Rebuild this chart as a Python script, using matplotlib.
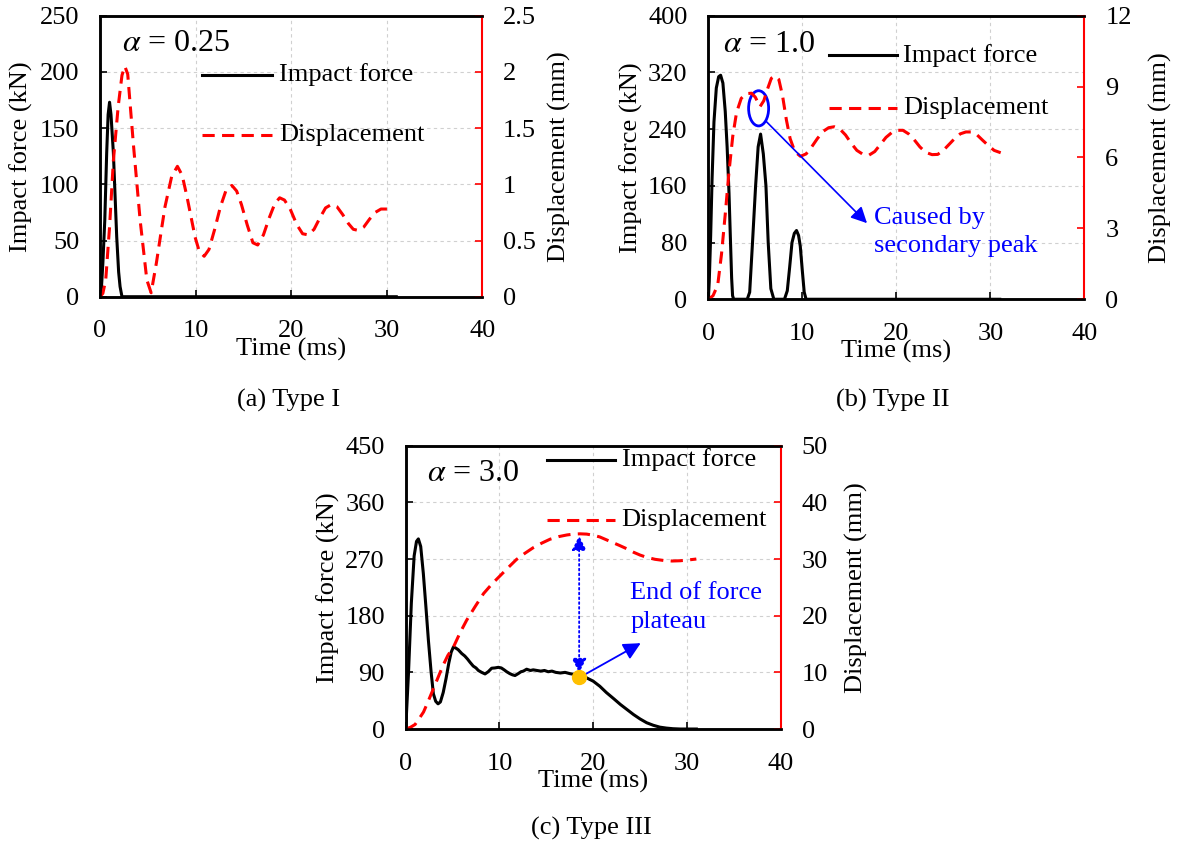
import matplotlib
matplotlib.use("Agg")
import matplotlib.pyplot as plt
from matplotlib.patches import Ellipse
from matplotlib.ticker import FuncFormatter

plt.rcParams['font.family'] = 'serif'
plt.rcParams['font.serif'] = ['Liberation Serif', 'DejaVu Serif']
plt.rcParams['mathtext.fontset'] = 'stix'

# ---- (a) Type I, alpha = 0.25
ta_force = [0, 0.15, 0.3, 0.5, 0.7, 0.85, 1.0, 1.15, 1.4, 1.6, 1.75, 1.95, 2.1, 2.3, 31.0]
fa = [0, 8, 30, 68, 128, 162, 173, 162, 128, 85, 53, 22, 9, 0, 0]
ta_disp = [0, 0.3, 0.6, 1.0, 1.4, 1.9, 2.3, 2.6, 2.9, 3.5, 4.2, 4.9, 5.35, 5.9, 6.4, 6.8, 7.5,
           8.1, 8.6, 9.1, 9.95, 10.4, 10.9, 11.4, 12.0, 12.6, 13.2, 13.8, 14.3, 14.8, 15.4,
           16.0, 16.5, 17.1, 17.7, 18.3, 18.8, 19.3, 19.9, 20.6, 21.2, 21.8, 22.4, 23.0, 23.6,
           24.2, 24.8, 25.4, 26.0, 26.5, 27.0, 27.6, 28.2, 28.8, 29.4, 29.9, 30.2]
da = [0, 0.03, 0.15, 0.62, 1.21, 1.69, 1.97, 2.05, 1.98, 1.35, 0.68, 0.15, 0.035, 0.3, 0.58,
      0.8, 1.07, 1.16, 1.08, 0.89, 0.53, 0.4, 0.36, 0.42, 0.6, 0.8, 0.95, 0.99, 0.94, 0.82,
      0.64, 0.48, 0.46, 0.55, 0.7, 0.83, 0.88, 0.86, 0.78, 0.64, 0.56, 0.55, 0.6, 0.7, 0.79,
      0.82, 0.8, 0.73, 0.65, 0.6, 0.59, 0.62, 0.69, 0.75, 0.78, 0.78, 0.78]

# ---- (b) Type II, alpha = 1.0
tb_force = [0, 0.1, 0.25, 0.4, 0.6, 0.85, 1.1, 1.31, 1.55, 1.8, 2.0, 2.2, 2.35, 2.48, 2.58,
            2.7, 4.14, 4.4, 4.7, 5.03, 5.3, 5.56, 5.85, 6.13, 6.37, 6.65, 6.97, 8.1, 8.4,
            8.65, 8.9, 9.15, 9.38, 9.6, 9.78, 10.0, 10.2, 10.4, 31.0]
fb = [0, 25, 90, 170, 250, 298, 314, 316, 305, 265, 215, 150, 85, 30, 5, 0, 0, 10, 80, 160,
      215, 233, 205, 160, 80, 15, 0, 0, 12, 45, 80, 93, 97, 90, 75, 40, 10, 0, 0]
tb_disp = [0, 0.5, 1.0, 1.4, 1.8, 2.2, 2.6, 3.0, 3.5, 4.0, 4.6, 5.0, 5.5, 5.9, 6.3, 6.7, 7.1,
           7.5, 7.9, 8.3, 8.7, 9.2, 9.8, 10.4, 11.0, 11.6, 12.2, 12.8, 13.4, 14.0, 14.6, 15.2,
           15.8, 16.5, 17.1, 17.7, 18.3, 18.9, 19.5, 20.1, 20.7, 21.3, 21.9, 22.5, 23.1, 23.8,
           24.4, 25.0, 25.6, 26.2, 26.8, 27.4, 28.0, 28.6, 29.2, 29.8, 30.4, 31.1]
db = [0, 0.15, 0.6, 1.9, 3.6, 5.4, 6.9, 7.9, 8.5, 8.7, 8.72, 8.55, 8.15, 8.4, 8.9, 9.35, 9.45,
      9.3, 8.6, 7.6, 6.8, 6.25, 6.05, 6.15, 6.45, 6.8, 7.1, 7.26, 7.3, 7.2, 6.95, 6.6, 6.3,
      6.12, 6.1, 6.25, 6.55, 6.85, 7.05, 7.15, 7.15, 7.0, 6.75, 6.45, 6.22, 6.12, 6.13, 6.3,
      6.55, 6.8, 7.0, 7.08, 7.08, 6.95, 6.72, 6.5, 6.3, 6.2]

# ---- (c) Type III, alpha = 3.0
tc_force = [0, 0.3, 0.6, 0.9, 1.15, 1.35, 1.6, 1.88, 2.15, 2.42, 2.7, 2.95, 3.2, 3.45, 3.7, 4.0,
            4.3, 4.6, 4.85, 5.08, 5.3, 5.6, 5.97, 6.3, 6.6, 6.86, 7.2, 7.5, 7.75, 8.1, 8.46,
            8.8, 9.17, 9.5, 9.88, 10.2, 10.5, 10.77, 11.1, 11.4, 11.66, 12.0, 12.3, 12.55,
            12.9, 13.3, 13.6, 14.0, 14.4, 14.8, 15.2, 15.6, 16.0, 16.5, 17.0, 17.5, 17.9,
            18.5, 19.2, 20.0, 20.7, 21.4, 22.2, 22.9, 23.6, 24.3, 25.0, 25.7, 26.4, 27.1,
            27.8, 28.5, 29.3, 31.0]
fc = [0, 90, 200, 275, 298, 302, 290, 247, 195, 141, 92, 56, 44, 40, 43, 58, 80, 105, 122,
      130, 129, 126, 120, 116, 111, 106, 100, 97, 93, 90, 87.5, 91, 96.6, 97, 98, 97, 94, 91,
      88, 86, 85, 88, 91, 92, 95, 93, 94, 93, 92, 93, 91, 92, 90, 89, 90, 88, 87, 85, 82, 76,
      68, 58, 48, 39, 31, 23, 16, 10, 6, 3, 1.5, 0.5, 0, 0]
tc_disp = [0, 0.5, 1.0, 1.5, 1.9, 2.4, 2.95, 3.5, 4.0, 4.5, 5.1, 5.8, 6.5, 7.4, 8.3, 9.2,
           10.1, 11.0, 11.8, 12.7, 13.6, 14.5, 15.4, 16.3, 17.2, 17.9, 18.6, 19.3, 20.0, 20.7,
           21.4, 22.1, 22.8, 23.6, 24.3, 25.0, 25.7, 26.6, 27.5, 28.4, 29.3, 30.2, 31.0]
dc = [0, 0.3, 0.8, 2.0, 3.0, 4.9, 7.1, 9.3, 11.3, 13.0, 14.5, 17.0, 19.2, 21.6, 23.9, 25.6,
      27.1, 28.6, 29.9, 31.0, 32.0, 32.8, 33.5, 33.95, 34.25, 34.4, 34.45, 34.4, 34.2, 33.9,
      33.4, 32.9, 32.4, 31.8, 31.2, 30.7, 30.3, 29.95, 29.75, 29.65, 29.7, 29.85, 30.0]

FS = 19
RED = '#FF0000'


def make_panel(fig, rect, t_f, f, t_d, d, fmax, fstep, dmax, dstep, alpha_txt, leg):
    ax = fig.add_axes(rect)
    ax2 = ax.twinx()
    ax.plot(t_f, f, color='black', lw=2.2, zorder=3)
    ax2.plot(t_d, d, color=RED, lw=2.2, dashes=(4, 2.4))

    ax.set_xlim(0, 40)
    ax.set_ylim(0, fmax)
    ax2.set_ylim(0, dmax)
    ax.set_xticks([0, 10, 20, 30, 40])
    ax.set_yticks([fstep * i for i in range(int(round(fmax / fstep)) + 1)])
    ax2.set_yticks([dstep * i for i in range(int(round(dmax / dstep)) + 1)])
    ax2.yaxis.set_major_formatter(FuncFormatter(lambda v, p: '%g' % v))

    ax.grid(True, color='#d0d0d0', linestyle=(0, (3, 3)), lw=0.8)
    ax.set_axisbelow(True)
    ax.tick_params(axis='both', direction='in', length=5, width=1.2, labelsize=FS)
    ax.tick_params(axis='y', pad=15)
    ax.tick_params(axis='x', pad=17)
    ax2.tick_params(axis='y', direction='in', length=5, width=1.2, colors=RED,
                    labelcolor='black', labelsize=FS, pad=15)
    for s in ['left', 'top', 'bottom']:
        ax.spines[s].set_linewidth(1.8)
        ax2.spines[s].set_linewidth(1.8)
    ax2.spines['right'].set_color(RED)
    ax2.spines['right'].set_linewidth(1.5)
    ax.spines['right'].set_visible(False)

    ax.set_xlabel('Time (ms)', fontsize=FS)
    ax.xaxis.set_label_coords(0.5, -0.145)
    ax.set_ylabel('Impact force (kN)', fontsize=FS)
    ax.yaxis.set_label_coords(-0.175, 0.5)
    ax2.set_ylabel('Displacement (mm)', fontsize=FS)
    ax2.yaxis.set_label_coords(1.172, 0.5)

    ax.text(alpha_txt[0], alpha_txt[1], alpha_txt[2], transform=ax.transAxes,
            fontsize=23, va='center', ha='left')

    # legend drawn by hand
    x0, x1, xt, y1, y2 = leg
    ax.plot([x0, x1], [y1, y1], color='black', lw=2.2, transform=ax.transAxes)
    ax.plot([x0, x1], [y2, y2], color=RED, lw=2.2, dashes=(4, 2.4), transform=ax.transAxes)
    ax.text(xt, y1, 'Impact force', transform=ax.transAxes, fontsize=FS, va='center')
    ax.text(xt, y2, 'Displacement', transform=ax.transAxes, fontsize=FS, va='center')
    return ax, ax2


fig = plt.figure(figsize=(11.77, 8.48), dpi=100)

ax_a, ax_a2 = make_panel(fig, [0.08496, 0.6501, 0.3248, 0.3314], ta_force, fa, ta_disp, da,
                         250, 50, 2.5, 0.5, (0.058, 0.902, r'$\alpha$ = 0.25'),
                         (0.266, 0.449, 0.469, 0.789, 0.575))

ax_b, ax_b2 = make_panel(fig, [0.6018, 0.6471, 0.3195, 0.3344], tb_force, fb, tb_disp, db,
                         400, 80, 12, 3, (0.04, 0.9, r'$\alpha$ = 1.0'),
                         (0.32, 0.502, 0.519, 0.861, 0.673))
ax_b2.add_patch(Ellipse((5.35, 8.08), width=2.13, height=1.49, fill=False,
                        edgecolor='blue', lw=2.0))
ax_b2.annotate('', xy=(16.88, 3.22), xytext=(6.17, 7.52),
               arrowprops=dict(arrowstyle='-|>', color='blue', lw=1.2, mutation_scale=24,
                               shrinkA=0, shrinkB=0))
ax_b2.text(17.63, 2.86, 'Caused by\nsecondary peak', color='blue', fontsize=FS,
           va='center', ha='left', linespacing=1.34)

ax_c, ax_c2 = make_panel(fig, [0.3447, 0.1403, 0.3186, 0.3341], tc_force, fc, tc_disp, dc,
                         450, 90, 50, 10, (0.056, 0.903, r'$\alpha$ = 3.0'),
                         (0.376, 0.558, 0.576, 0.95, 0.738))
ax_c.annotate('', xy=(18.5, 307), xytext=(18.5, 89),
              arrowprops=dict(arrowstyle='<|-|>', color='blue', lw=1.3, linestyle=':',
                              mutation_scale=22, shrinkA=0, shrinkB=0))
ax_c.annotate('', xy=(25.07, 136.4), xytext=(19.1, 86.5),
              arrowprops=dict(arrowstyle='-|>', color='blue', lw=1.3, mutation_scale=26,
                              shrinkA=0, shrinkB=0))
ax_c.plot([18.5], [83], 'o', color='#FFC000', markersize=10, zorder=5)
ax_c.text(23.93, 192.6, 'End of force\nplateau', color='blue', fontsize=FS,
          va='center', ha='left', linespacing=1.42)

fig.text(289 / 1177, 1 - 400 / 848, '(a) Type I', fontsize=FS, ha='center', va='center')
fig.text(893 / 1177, 1 - 400 / 848, '(b) Type II', fontsize=FS, ha='center', va='center')
fig.text(591 / 1177, 1 - 828 / 848, '(c) Type III', fontsize=FS, ha='center', va='center')

plt.savefig('out.png', dpi=100)
plt.close()
